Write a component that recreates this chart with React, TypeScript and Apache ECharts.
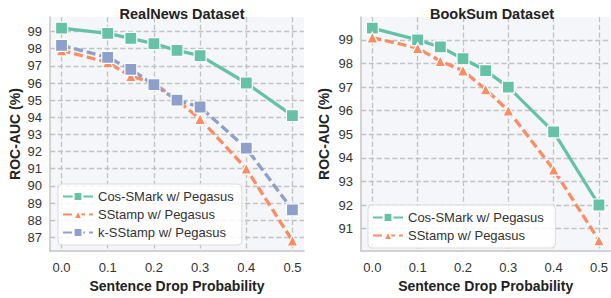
import React, { useEffect, useRef } from "react";
import * as echarts from "echarts";

const probs = [0, 0.1, 0.15, 0.2, 0.25, 0.3, 0.4, 0.5];

const realNewsCos = [99.2, 98.9, 98.6, 98.3, 97.9, 97.6, 96.0, 94.1];
const realNewsSStamp = [97.9, 97.2, 96.4, 96.0, 95.0, 93.9, 91.0, 86.8];
const realNewsKSStamp = [98.2, 97.5, 96.8, 95.9, 95.0, 94.6, 92.2, 88.6];

const bookSumCos = [99.5, 99.0, 98.7, 98.2, 97.7, 97.0, 95.1, 92.0];
const bookSumSStamp = [99.1, 98.65, 98.1, 97.7, 96.9, 96.0, 93.5, 90.5];

const GREEN = "#66c2a5";
const ORANGE = "#fc8d62";
const BLUE = "#8da0cb";
const FONT = "Liberation Sans, Arial, sans-serif";

const pair = (ys: number[]) => probs.map((x, i) => [x, ys[i]]);

export default function App() {
  const ref = useRef<HTMLDivElement>(null);
  useEffect(() => {
    if (!ref.current) return;
    const chart = echarts.init(ref.current, undefined, { renderer: "svg" });

    const axisLine = { show: true, onZero: false, lineStyle: { color: "#c4c4c4", width: 1.5 } };
    const labelStyle = { color: "#333", fontSize: 13, fontFamily: FONT };
    const nameStyle = { color: "#222", fontSize: 14, fontWeight: "bold" as const, fontFamily: FONT };
    const splitLine = {
      show: true,
      showMinLine: false,
      showMaxLine: false,
      lineStyle: { color: "#c2c2c2", type: "dashed", width: 1.3, dashOffset: 0 },
    };

    const mkX = (gi: number) => ({
      type: "value",
      gridIndex: gi,
      min: -0.025,
      max: 0.525,
      minInterval: 0.1,
      maxInterval: 0.1,
      name: "Sentence Drop Probability",
      nameLocation: "middle",
      nameGap: 28,
      nameTextStyle: nameStyle,
      axisLine,
      axisTick: { show: false },
      axisLabel: {
        ...labelStyle,
        margin: 10,
        showMinLabel: false,
        showMaxLabel: false,
        formatter: (v: number) => v.toFixed(1),
      },
      splitLine,
    });
    const mkY = (gi: number, min: number, max: number, gap: number) => ({
      type: "value",
      gridIndex: gi,
      min,
      max,
      minInterval: 1,
      maxInterval: 1,
      name: "ROC-AUC (%)",
      nameLocation: "middle",
      nameGap: gap,
      nameTextStyle: nameStyle,
      axisLine,
      axisTick: { show: false },
      axisLabel: { ...labelStyle, margin: 8, showMinLabel: false, showMaxLabel: false },
      splitLine,
    });

    const mkSeries = (name: string, data: number[], color: string, symbol: string, dashed: boolean, gi: number) => ({
      name,
      type: "line",
      xAxisIndex: gi,
      yAxisIndex: gi,
      data: pair(data),
      symbol,
      symbolSize: symbol === "triangle" ? 11 : 12,
      showAllSymbol: true,
      lineStyle: { color, width: 3.3, type: dashed ? ([9, 4] as any) : "solid" },
      itemStyle: { color, borderColor: "#fff", borderWidth: 1.2 },
      emphasis: { disabled: true },
    });

    const legendCommon = {
      orient: "vertical",
      itemWidth: 30,
      itemHeight: 11,
      itemGap: 3,
      padding: [5, 8, 5, 4],
      backgroundColor: "rgba(255,255,255,0.85)",
      borderColor: "#dcdcdc",
      borderWidth: 1,
      borderRadius: 4,
      textStyle: { color: "#333", fontSize: 13, fontFamily: FONT, lineHeight: 15 },
      selectedMode: false,
    };

    chart.setOption({
      animation: false,
      backgroundColor: "#fff",
      title: [
        { text: "RealNews Dataset", left: 177, top: 1, textAlign: "center", textStyle: { ...nameStyle, fontSize: 14.5 } },
        { text: "BookSum Dataset", left: 487, top: 1, textAlign: "center", textStyle: { ...nameStyle, fontSize: 14.5 } },
      ],
      grid: [
        { left: 50, right: 307, top: 17, bottom: 47, show: true, backgroundColor: "#f5f6f9", borderWidth: 0, z: -1 },
        { left: 361, right: -1, top: 17, bottom: 46, show: true, backgroundColor: "#f5f6f9", borderWidth: 0, z: -1 },
      ],
      xAxis: [mkX(0), mkX(1)],
      yAxis: [mkY(0, 86.2, 99.85, 28), mkY(1, 90.05, 99.97, 30)],
      legend: [
        { ...legendCommon, left: 58, top: 184, data: ["Cos-SMark w/ Pegasus", "SStamp w/ Pegasus", "k-SStamp w/ Pegasus"] },
        { ...legendCommon, left: 368, top: 205, data: ["Cos-SMark w/ Pegasus ", "SStamp w/ Pegasus "] },
      ],
      series: [
        mkSeries("Cos-SMark w/ Pegasus", realNewsCos, GREEN, "rect", false, 0),
        mkSeries("SStamp w/ Pegasus", realNewsSStamp, ORANGE, "triangle", true, 0),
        mkSeries("k-SStamp w/ Pegasus", realNewsKSStamp, BLUE, "rect", true, 0),
        mkSeries("Cos-SMark w/ Pegasus ", bookSumCos, GREEN, "rect", false, 1),
        mkSeries("SStamp w/ Pegasus ", bookSumSStamp, ORANGE, "triangle", true, 1),
      ],
    });
    return () => chart.dispose();
  }, []);
  return <div ref={ref} style={{ width: 611, height: 298, position: "absolute", left: 0, top: 0 }} />;
}
